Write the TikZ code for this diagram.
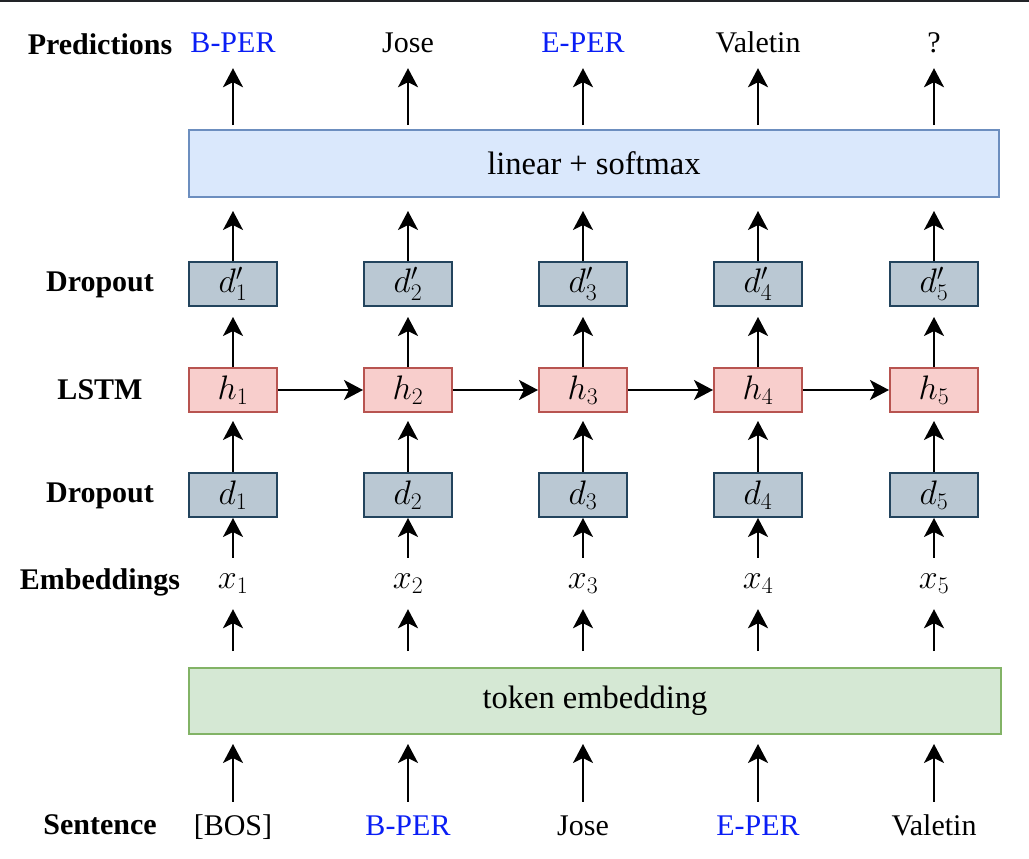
\RequirePackage{fix-cm}
\documentclass[tikz,border=0pt]{standalone}
\usepackage{fontspec}
\setmainfont{Liberation Serif}
\usetikzlibrary{arrows.meta,calc}
\definecolor{dfill}{HTML}{BAC8D3}
\definecolor{dline}{HTML}{23445D}
\definecolor{hfill}{HTML}{F8CECC}
\definecolor{hline}{HTML}{B85450}
\definecolor{lfill}{HTML}{DAE8FC}
\definecolor{lline}{HTML}{6C8EBF}
\definecolor{tfill}{HTML}{D5E8D4}
\definecolor{tline}{HTML}{82B366}
\definecolor{tagblue}{HTML}{0A1EF5}
\definecolor{topline}{HTML}{222428}
\tikzset{
  txt/.style={font=\fontsize{30}{36}\selectfont, inner sep=0pt, text height=21pt, text depth=0pt, anchor=base},
  rowlab/.style={font=\fontsize{30}{36}\selectfont\bfseries, inner sep=0pt},
  smallbox/.style={draw, line width=2pt, minimum width=88pt, minimum height=44pt, inner sep=0pt, font=\fontsize{34}{40}\selectfont},
  dbox/.style={smallbox, fill=dfill, draw=dline},
  hbox/.style={smallbox, fill=hfill, draw=hline},
  widebox/.style={draw, line width=2pt, inner sep=0pt, font=\fontsize{32.5}{38}\selectfont},
  arr/.style={line width=2pt, -{Stealth[length=19pt,width=20pt,inset=5pt]}},
  xlab/.style={font=\fontsize{34}{40}\selectfont, inner sep=0pt, text height=15pt, text depth=0pt, anchor=base},
}
\begin{document}
\begin{tikzpicture}[x=1pt,y=-1pt]
\useasboundingbox (0,0) rectangle (1029,859);
\fill[white] (0,0) rectangle (1029,859);
\coordinate (tlL) at (0,1);
\coordinate (tlR) at (1029,1);
\draw[topline, line width=2.5pt] (tlL) -- (tlR);

% row labels
\node[rowlab] (rpred) at (100,44) {Predictions};
\node[rowlab] (rdrop2) at (100,285) {Dropout};
\node[rowlab] (rlstm) at (100,390) {LSTM};
\node[rowlab] (rdrop1) at (100,496) {Dropout};
\node[rowlab] (remb) at (100,582) {Embeddings};
\node[rowlab] (rsent) at (100,825) {Sentence};

% wide boxes
\node[widebox, fill=lfill, draw=lline, minimum width=810pt, minimum height=67pt] (lin) at (594,163.5) {linear + softmax};
\node[widebox, fill=tfill, draw=tline, minimum width=812pt, minimum height=66pt] (tok) at (595,701) {token embedding};

% top predictions
\node[txt, text=tagblue] (t1) at (233,53) {B-PER};
\node[txt] (t2) at (408,53) {Jose};
\node[txt, text=tagblue] (t3) at (583,53) {E-PER};
\node[txt] (t4) at (758,53) {Valetin};
\node[txt] (t5) at (934,53) {?};

% sentence
\node[txt] (s1) at (233,835) {[BOS]};
\node[txt, text=tagblue] (s2) at (408,835) {B-PER};
\node[txt] (s3) at (583,835) {Jose};
\node[txt, text=tagblue] (s4) at (758,835) {E-PER};
\node[txt] (s5) at (934,835) {Valetin};

\foreach \i/\cx in {1/233,2/408,3/583,4/758,5/934}{
  \node[dbox] (dp\i) at (\cx,284) {$d'_{\i}$};
  \node[hbox] (h\i) at (\cx,390) {$h_{\i}$};
  \node[dbox] (d\i) at (\cx,495) {$d_{\i}$};
  \node[xlab] (x\i) at (\cx,588) {$x_{\i}$};
}

\foreach \i in {1,...,5}{
  \draw[arr, shorten <=4pt, shorten >=15pt] (lin.north -| t\i) -- (t\i.south);
  \draw[arr, shorten >=13pt] (dp\i.north) -- (lin.south -| dp\i);
  \draw[arr, shorten >=10pt] (h\i.north) -- (dp\i.south);
  \draw[arr, shorten >=8pt] (d\i.north) -- (h\i.south);
  \draw[arr, shorten <=15pt] (x\i.north) -- (d\i.south);
  \draw[arr, shorten <=16pt, shorten >=21pt] (tok.north -| x\i) -- (x\i.south);
  \draw[arr, shorten <=12pt, shorten >=9pt] (s\i.north) -- (tok.south -| s\i);
}
\foreach \i/\j in {1/2,2/3,3/4,4/5}{
  \draw[arr] (h\i.east) -- (h\j.west);
}
\end{tikzpicture}
\end{document}
